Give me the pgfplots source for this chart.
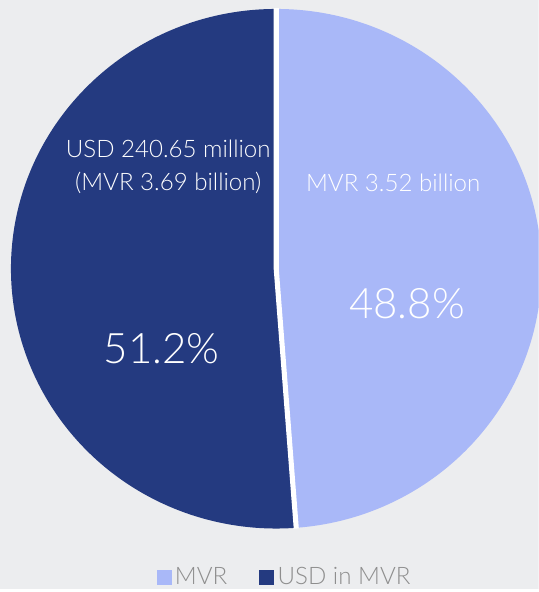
\documentclass[border=0pt]{standalone}
\usepackage{pgfplots}
\pgfplotsset{compat=1.18}
\usepackage{pgfplotstable}
\usepackage{fontspec}
\setmainfont{Lato Light}
\definecolor{bg}{HTML}{ECEDEF}
\definecolor{lightc}{HTML}{A9B8F8}
\definecolor{darkc}{HTML}{243A80}
\definecolor{legtext}{HTML}{8E8E8E}
\pgfplotstableread{
label value
MVR 48.8
USD 51.2
}\piedata
\begin{document}
\begin{tikzpicture}
\pgfplotstablegetelem{0}{value}\of\piedata
\pgfmathsetmacro{\angA}{\pgfplotsretval*3.6}
\pgfmathsetmacro{\endA}{90-\angA}
\begin{axis}[
  x=120pt, y=117.52pt,
  xmin=-1.0413, xmax=0.9887, ymin=-1.2337, ymax=1.0345,
  hide axis, clip=true,
  legend columns=2,
  legend style={draw=none, fill=none, at={(0.5296,0.0203)}, anchor=center,
    font=\fontsize{10.9}{13}\selectfont\color{legtext},
    nodes={inner xsep=1.5pt},
    /tikz/every even column/.append style={column sep=13pt},
    inner sep=0pt},
  legend image code/.code={\fill[#1, draw=none] (0pt,-3.4pt) rectangle (6.8pt,3.4pt);},
]
\fill[bg] (axis cs:-1.0413,-1.2337) rectangle (axis cs:0.9887,1.0345);
\fill[lightc] (axis cs:0,0) -- (axis cs:0,1) arc[start angle=90, end angle=\endA, x radius=120pt, y radius=117.52pt] -- cycle;
\fill[darkc] (axis cs:0,0) -- (axis cs:0,1) arc[start angle=90, end angle=\endA+360, x radius=120pt, y radius=117.52pt] -- cycle;
\draw[white, line width=2.3pt] (axis cs:0,1.003) -- (axis cs:0,0) -- ({axis cs:{1.003*cos(\endA)},{1.003*sin(\endA)}});
\addlegendimage{fill=lightc}
\addlegendentry{MVR}
\addlegendimage{fill=darkc}
\addlegendentry{USD in MVR}
\node[white, align=center, font=\fontsize{10.9}{15}\selectfont] at (axis cs:-0.407,0.391) {USD 240.65 million\\(MVR 3.69 billion)};
\node[white, font=\fontsize{10.9}{15}\selectfont] at (axis cs:0.441,0.330) {MVR 3.52 billion};
\node[white, font=\fontsize{19}{22}\selectfont] at (axis cs:0.493,-0.134) {48.8\%};
\node[white, font=\fontsize{19}{22}\selectfont] at (axis cs:-0.432,-0.307) {51.2\%};
\end{axis}
\end{tikzpicture}
\end{document}
